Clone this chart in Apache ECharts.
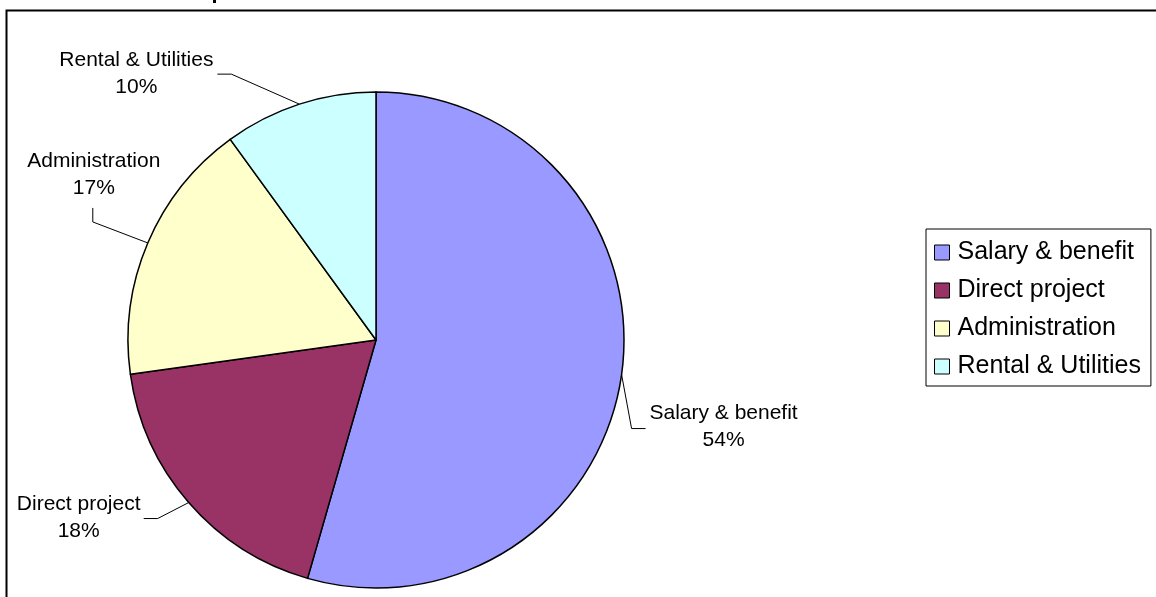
<!DOCTYPE html>
<html>
<head>
<meta charset="utf-8">
<script src="https://cdn.jsdelivr.net/npm/echarts@6/dist/echarts.min.js"></script>
<style>
  html, body { margin: 0; padding: 0; background: #fff; }
  #chart { width: 1156px; height: 597px; }
</style>
</head>
<body>
<div id="chart"></div>
<script>
// ---- data ----
const categories = ['Salary & benefit', 'Direct project', 'Administration', 'Rental & Utilities'];
const values = [54.45, 18.35, 17.2, 10.0];
const colors = ['#9999FF', '#993366', '#FFFFCC', '#CCFFFF'];

// ---- label layout offsets (relative to slice edge point) ----
const labelOffsets = [
  { bend: [10, 54], end: [24, 54], text: [102, 52] },
  { bend: [-31, 16], end: [-45, 16], text: [-110, 15] },
  { bend: [-55, -21], end: [-55, -35], text: [-54, -68] },
  { bend: [-68, -30], end: [-82, -30], text: [-163, -30] }
];

const FONT = '"Liberation Sans", Arial, sans-serif';
const chart = echarts.init(document.getElementById('chart'), null, { renderer: 'canvas' });

const option = {
  animation: false,
  backgroundColor: '#ffffff',
  color: colors,
  graphic: [
    {
      type: 'rect',
      shape: { x: 6.5, y: 10.5, width: 1300, height: 800 },
      style: { fill: 'none', stroke: '#000', lineWidth: 2 },
      silent: true
    },
    {
      type: 'rect',
      shape: { x: 213, y: 0, width: 3, height: 3 },
      style: { fill: '#000' },
      silent: true
    }
  ],
  legend: {
    orient: 'vertical',
    left: 926,
    top: 229,
    width: 222,
    padding: [11, 10, 7, 8],
    backgroundColor: '#fff',
    borderColor: '#000',
    borderWidth: 1,
    itemWidth: 15,
    itemHeight: 15,
    itemGap: 13,
    icon: 'rect',
    itemStyle: { borderColor: '#000', borderWidth: 1 },
    textStyle: { fontFamily: FONT, fontSize: 25, color: '#000', padding: [0, 0, 0, 3] },
    data: categories
  },
  series: [{
    type: 'pie',
    center: [376, 340],
    radius: [0, 248],
    startAngle: 90,
    clockwise: true,
    avoidLabelOverlap: false,
    itemStyle: { borderColor: '#000', borderWidth: 1.5 },
    emphasis: { disabled: true },
    label: {
      show: true,
      position: 'outside',
      formatter: p => '{t|' + p.name + '}\n{t|' + Math.round(p.percent) + '%}',
      rich: {
        t: { fontFamily: FONT, fontSize: 21, lineHeight: 27, color: '#000', align: 'center' }
      }
    },
    labelLine: {
      show: true,
      length: 20,
      length2: 15,
      lineStyle: { color: '#000', width: 1 }
    },
    labelLayout: function (params) {
      const pts = params.labelLinePoints;
      if (!pts) return {};
      const p0 = pts[0];
      const o = labelOffsets[params.dataIndex];
      return {
        x: p0[0] + o.text[0],
        y: p0[1] + o.text[1],
        align: 'center',
        verticalAlign: 'middle',
        labelLinePoints: [
          [p0[0], p0[1]],
          [p0[0] + o.bend[0], p0[1] + o.bend[1]],
          [p0[0] + o.end[0], p0[1] + o.end[1]]
        ]
      };
    },
    data: categories.map((c, i) => ({ name: c, value: values[i] }))
  }]
};

chart.setOption(option);
</script>
</body>
</html>
